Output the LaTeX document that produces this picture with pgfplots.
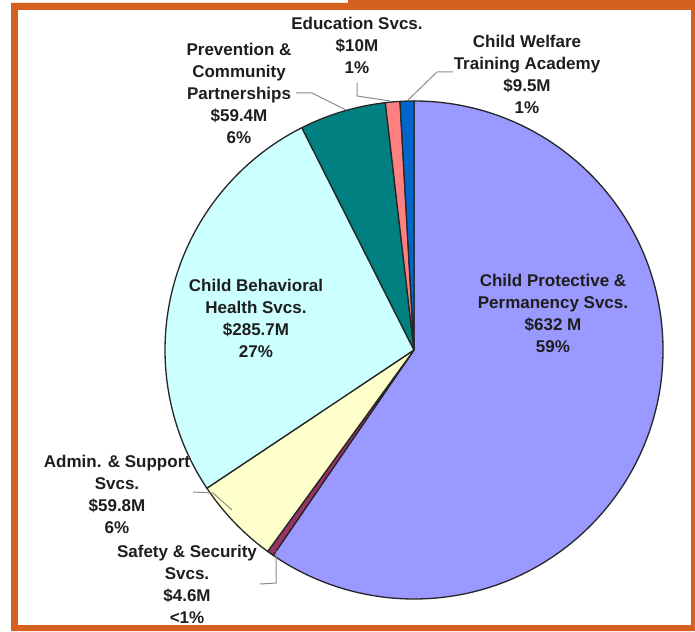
\documentclass[border=0pt]{standalone}
\usepackage{pgfplots}
\usepackage{pgfplotstable}
\pgfplotsset{compat=1.18}
\usepackage{fontspec}
\setmainfont{Liberation Sans}
\definecolor{frameor}{RGB}{214,96,30}
\definecolor{cps}{HTML}{9999FF}
\definecolor{saf}{HTML}{993366}
\definecolor{adm}{HTML}{FFFFCC}
\definecolor{beh}{HTML}{CCFFFF}
\definecolor{prev}{HTML}{008080}
\definecolor{edu}{HTML}{FF8080}
\definecolor{trn}{HTML}{0066CC}
\definecolor{txt}{HTML}{1E1E1E}
\definecolor{lead}{HTML}{8C8C8C}

% budget in $M, drawn clockwise from 12 o'clock
\pgfplotstableread{
name value color
ChildProtective 632 cps
SafetySecurity 4.6 saf
AdminSupport 59.8 adm
ChildBehavioral 285.7 beh
Prevention 59.4 prev
Education 10 edu
TrainingAcademy 9.5 trn
}\piedata

\begin{document}
\begin{tikzpicture}
\begin{axis}[
  hide axis, scale only axis,
  x=1pt, y=1pt,
  xmin=0, xmax=695, ymin=0, ymax=631,
  clip=false,
]
% frame
\fill[white] (axis cs:0,0) rectangle (axis cs:695,631);
\fill[frameor] (axis cs:11,0) -- (axis cs:695,0) -- (axis cs:695,631) -- (axis cs:348,631)
  -- (axis cs:348,628) -- (axis cs:11,628) -- cycle;
\fill[white] (axis cs:18,6) rectangle (axis cs:691,621);

% total
\xdef\total{0}
\pgfplotsforeachungrouped \i in {0,...,6}{%
  \pgfplotstablegetelem{\i}{value}\of\piedata
  \pgfmathsetmacro\total{\total+\pgfplotsretval}%
}
% slices
\xdef\cum{0}
\pgfplotsforeachungrouped \i in {0,...,6}{%
  \pgfplotstablegetelem{\i}{value}\of\piedata
  \let\sliceval\pgfplotsretval
  \pgfplotstablegetelem{\i}{color}\of\piedata
  \let\slicecol\pgfplotsretval
  \pgfmathsetmacro\sa{90-360*(\cum/\total)}%
  \pgfmathsetmacro\cum{\cum+\sliceval}%
  \pgfmathsetmacro\ea{90-360*(\cum/\total)}%
  \edef\temp{\noexpand\filldraw[fill=\slicecol,draw=black!85,line width=1.3pt,line join=round]
    (axis cs:414,281) -- ++(\sa:249pt) arc[start angle=\sa,end angle=\ea,radius=249pt] -- cycle;}%
  \temp
}

% leader lines
\draw[lead,line width=1pt] (axis cs:296,538) -- (axis cs:312,538) -- (axis cs:346,521);
\draw[lead,line width=1pt] (axis cs:357,548) -- (axis cs:357,535) -- (axis cs:390,530);
\draw[lead,line width=1pt] (axis cs:453,559) -- (axis cs:437,559) -- (axis cs:408,531);
\draw[lead,line width=1pt] (axis cs:193,139) -- (axis cs:213,138) -- (axis cs:232,121);
\draw[lead,line width=1pt] (axis cs:276,80) -- (axis cs:276,48) -- (axis cs:260,47);

% labels
\tikzset{lbl/.style={align=center,inner sep=0pt,text=txt,font=\fontsize{17}{22}\selectfont\bfseries}}
\node[lbl] at (axis cs:357,586) {Education Svcs.\\\$10M\\1\%};
\node[lbl] at (axis cs:527,557) {Child Welfare\\Training Academy\\\$9.5M\\1\%};
\node[lbl] at (axis cs:239,538) {Prevention \&\\Community\\Partnerships\\\$59.4M\\6\%};
\node[lbl] at (axis cs:256,313) {Child Behavioral\\Health Svcs.\\\$285.7M\\27\%};
\node[lbl] at (axis cs:553,318) {Child Protective \&\\Permanency Svcs.\\\$632 M\\59\%};
\node[lbl] at (axis cs:117,137) {Admin. \& Support\\Svcs.\\\$59.8M\\6\%};
\node[lbl] at (axis cs:187,47) {Safety \& Security\\Svcs.\\\$4.6M\\<1\%};
\end{axis}
\end{tikzpicture}
\end{document}
